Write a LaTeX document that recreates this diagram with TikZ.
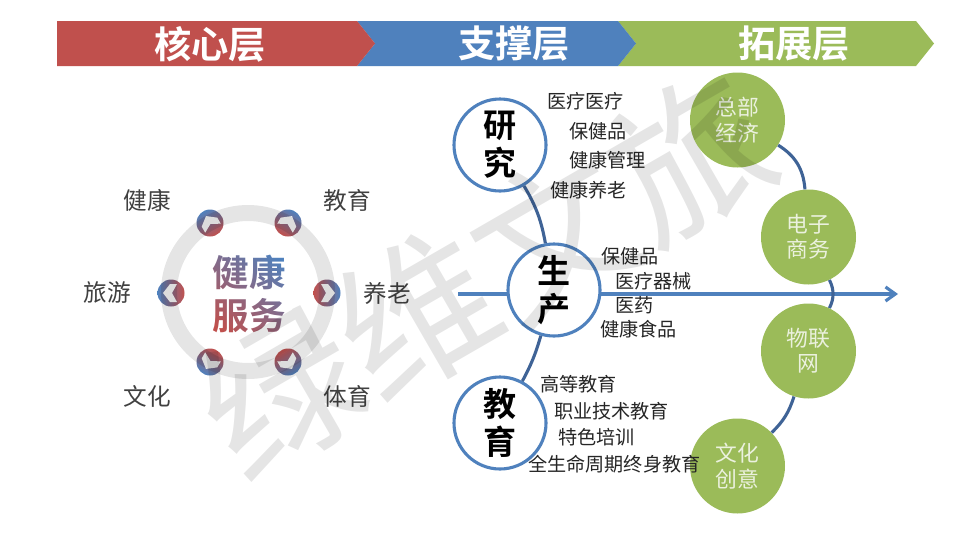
\documentclass[tikz,border=0pt]{standalone}
\usepackage{fontspec}
\setmainfont{Noto Sans CJK SC}[BoldFont=Noto Sans CJK SC Bold]
\usepackage{xcolor}
\usepackage{tikz}
\usetikzlibrary{arrows.meta,positioning,calc}

\definecolor{hdred}{HTML}{C0504D}
\definecolor{hdblue}{HTML}{4F81BD}
\definecolor{hdgreen}{HTML}{9BBB59}
\definecolor{arcblue}{HTML}{3F6396}
\definecolor{softwhite}{HTML}{EBF1DE}

\tikzset{
  headtext/.style={text=white, font=\fontsize{26.5}{30}\selectfont\bfseries},
  sidetext/.style={text=black!75, font=\fontsize{16.8}{20}\selectfont},
  dotnode/.style={circle, minimum size=27*0.025cm, inner sep=0pt, top color=hdred, bottom color=hdblue, shading angle=#1},
  itemtext/.style={text=black!85, anchor=west, inner sep=0pt, font=\fontsize{13.6}{16}\selectfont},
  corenode/.style={circle, draw=hdblue, line width=2.2pt, fill=white, minimum size=92*0.025cm, inner sep=0pt, align=center, font=\fontsize{23.5}{27}\selectfont\bfseries},
  outernode/.style={circle, fill=hdgreen, minimum size=95*0.025cm, inner sep=0pt, align=center, text=softwhite, font=\fontsize{15.5}{18}\selectfont},
  arcline/.style={draw=arcblue, line width=2.2pt},
  chevronmark/.pic={\fill[white!92!gray] (-6,-9) -- (1,-9) -- (8,0) -- (1,9) -- (-6,9) -- (-1,0) -- cycle;},
}

\begin{document}
\begin{tikzpicture}[x=0.025cm, y=-0.025cm]
  \useasboundingbox (0,0) rectangle (960,540);
  \fill[white] (0,0) rectangle (960,540);

  % Header band
  \fill[hdgreen] (618,21) -- (916,21) -- (934,43.5) -- (916,66) -- (618,66) -- (636,43.5) -- cycle;
  \fill[hdblue] (357,21) -- (618,21) -- (636,43.5) -- (618,66) -- (357,66) -- (375,43.5) -- cycle;
  \fill[hdred] (57,21) -- (357,21) -- (375,43.5) -- (357,66) -- (57,66) -- cycle;
  \node[headtext] (headcore) at (210,44) {核心层};
  \node[headtext] (headsupport) at (514,44) {支撑层};
  \node[headtext] (headextend) at (794,44) {拓展层};

  % Left ring of dots
  \node[dotnode=210] (dothealth) at (210,223) {};
  \node[dotnode=150] (doteduc) at (288,223) {};
  \node[dotnode=270] (dottravel) at (171,293) {};
  \node[dotnode=90] (dotelder) at (327,293) {};
  \node[dotnode=330] (dotculture) at (210,362) {};
  \node[dotnode=30] (dotsport) at (288,362) {};
  \pic[rotate=120] at (dothealth) {chevronmark};
  \pic[rotate=60] at (doteduc) {chevronmark};
  \pic[rotate=180] at (dottravel) {chevronmark};
  \pic[rotate=0] at (dotelder) {chevronmark};
  \pic[rotate=240] at (dotculture) {chevronmark};
  \pic[rotate=300] at (dotsport) {chevronmark};

  \node[sidetext] (labhealth) at (147,200) {健康};
  \node[sidetext] (labeduc) at (347,200) {教育};
  \node[sidetext] (labtravel) at (107,293) {旅游};
  \node[sidetext] (labelder) at (387,293) {养老};
  \node[sidetext] (labculture) at (147,396) {文化};
  \node[sidetext] (labsport) at (347,396) {体育};

  % Centre title
  \node[text=black, align=center, font=\fontsize{26}{31}\selectfont\bfseries] (healthtitle) at (249,294) {健康\\服务};
  \begin{scope}[blend mode=screen]
    \fill[top color=hdred, bottom color=hdblue, shading angle=140] (205,245) rectangle (293,342);
  \end{scope}

  % Axis
  \coordinate (axisstart) at (458,294);
  \coordinate (axisend) at (898,294);
  \draw[-{Straight Barb[length=7pt, width=10pt]}, draw=hdblue, line width=2.2pt] (axisstart) -- (axisend);

  % Support circles
  \node[corenode] (research) at (500,145) {研\\究};
  \node[corenode] (production) at (554,290) {生\\产};
  \node[corenode] (education) at (500,423) {教\\育};
  \draw[arcline] (research) to[bend left=10] (production);
  \draw[arcline] (production) to[bend left=6] (education);

  \node[itemtext] (r1) at (547,101) {医疗医疗};
  \node[itemtext] (r2) at (569,131) {保健品};
  \node[itemtext] (r3) at (569,160) {健康管理};
  \node[itemtext] (r4) at (550,190) {健康养老};

  \node[itemtext] (p1) at (601,256) {保健品};
  \node[itemtext] (p2) at (615,281) {医疗器械};
  \node[itemtext] (p3) at (615,305) {医药};
  \node[itemtext] (p4) at (600,329) {健康食品};

  \node[itemtext] (e1) at (540,384) {高等教育};
  \node[itemtext] (e2) at (554,411) {职业技术教育};
  \node[itemtext] (e3) at (558,437) {特色培训};

  % Extension circles
  \node[outernode] (hq) at (737.5,120) {总部\\经济};
  \node[outernode] (ecom) at (808.5,237) {电子\\商务};
  \node[outernode] (iot) at (808.5,351) {物联\\网};
  \node[outernode] (creative) at (737.5,466) {文化\\创意};
  \draw[arcline] (hq) to[bend left=27] (ecom);
  \draw[arcline] (ecom) to[bend left=26] (iot);
  \draw[arcline] (iot) to[bend left=14] (creative);

  \node[itemtext] (e4) at (528,464) {全生命周期终身教育};

  % Watermark
  \node[circle, draw=black, draw opacity=0.1, line width=16*0.711pt, minimum size=158*0.025cm, inner sep=0pt] (markring) at (248,292) {};
  \node[rotate=30, text=black, text opacity=0.1, font=\fontsize{112}{116}\selectfont, inner sep=0pt] (markname) at (485,275) {绿维文旅};
\end{tikzpicture}
\end{document}
